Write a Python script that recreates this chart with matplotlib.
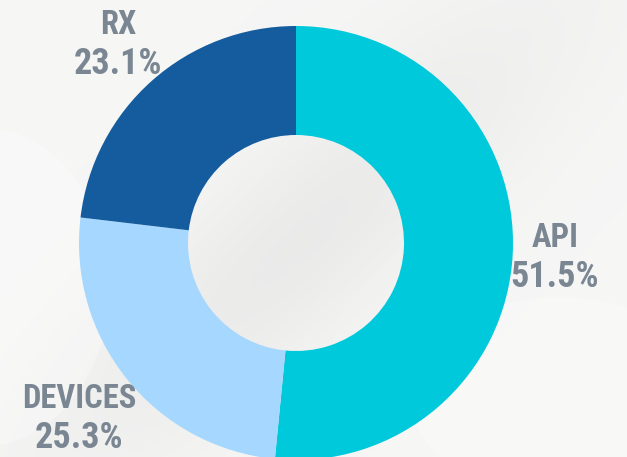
import numpy as np
import matplotlib.pyplot as plt
from matplotlib.patches import Ellipse

labels = ['API', 'DEVICES', 'RX']
shares = [51.5, 25.3, 23.1]
colors = ['#00c9db', '#a6d8ff', '#155c9f']
label_dist = [259, 278, 268]

fig = plt.figure(figsize=(6.27, 4.57), dpi=100)
ax = fig.add_axes([0, 0, 1, 1])

# soft grey background with a faint diagonal shadow through the middle
yy, xx = np.mgrid[0:457, 0:627]
d = (xx - 627) * 0.8 + yy
shade = 0.965 - 0.045 * np.exp(-((d + 20) / 120.0) ** 2) * np.exp(-((xx - 300) / 260.0) ** 2)
bg = np.clip(shade, 0, 1)
ax.imshow(np.dstack([bg, bg, bg * 0.997]), extent=(0, 627, 0, 457), origin='upper', zorder=0)
ax.add_patch(Ellipse((-20, 170), 260, 320, color='white', alpha=0.3, lw=0, zorder=1))
ax.add_patch(Ellipse((560, 60), 300, 200, color='white', alpha=0.25, lw=0, zorder=1))

cx, cy, R = 296, 214, 217
ax.pie(shares, colors=colors, startangle=90, counterclock=False,
       radius=R, center=(cx, cy), wedgeprops=dict(width=109, linewidth=0))

font = dict(fontweight='bold', fontstretch='condensed',
            family=['Roboto Condensed', 'DejaVu Sans'], color='#7a8793', zorder=5)

start = 90.0
total = sum(shares)
for lab, val, dist in zip(labels, shares, label_dist):
    sweep = val / total * 360.0
    mid = np.deg2rad(start - sweep / 2)
    start -= sweep
    x = cx + dist * np.cos(mid)
    y = cy + dist * np.sin(mid)
    ax.text(x, y + 9, lab, ha='center', va='baseline', fontsize=23.5, **font)
    ax.text(x, y - 31, f'{val:.1f}%', ha='center', va='baseline', fontsize=26, **font)

ax.set_xlim(0, 627)
ax.set_ylim(0, 457)
ax.set_aspect('equal')
ax.axis('off')

fig.savefig('out.png', dpi=100)
